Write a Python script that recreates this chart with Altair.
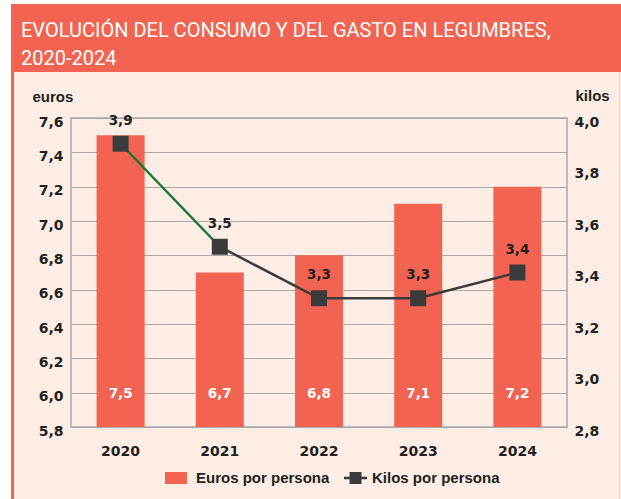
import altair as alt
import pandas as pd

# ---- data ----
anios = ["2020", "2021", "2022", "2023", "2024"]
euros_persona = [7.5, 6.7, 6.8, 7.1, 7.2]
kilos_persona = [3.9, 3.5, 3.3, 3.3, 3.4]
ticks_euros = [5.8, 6.0, 6.2, 6.4, 6.6, 6.8, 7.0, 7.2, 7.4, 7.6]
ticks_kilos = [2.8, 3.0, 3.2, 3.4, 3.6, 3.8, 4.0]
titulo = ["EVOLUCIÓN DEL CONSUMO Y DEL GASTO EN LEGUMBRES,", "2020-2024"]
serie_euros = "Euros por persona"
serie_kilos = "Kilos por persona"

RED = "#F26451"
PINK = "#FDEDE5"
DARK = "#231F20"
LINE = "#3A3B3D"
GREEN = "#17772F"
GRID = "#A9A9A9"

df = pd.DataFrame({"anio": anios, "euros": euros_persona, "kilos": kilos_persona})
df["lbl_e"] = [f"{v:.1f}".replace(".", ",") for v in euros_persona]
df["lbl_k"] = [f"{v:.1f}".replace(".", ",") for v in kilos_persona]
df["base_e"] = 6.0

one = pd.DataFrame({"a": [0]})
comma = "replace(format(datum.value, '.1f'), '.', ',')"

x = alt.X(
    "anio:N",
    scale=alt.Scale(paddingInner=0.516, paddingOuter=0.258),
    axis=alt.Axis(
        title=None, labelAngle=0, labelFont="DejaVu Sans", labelFontWeight="bold",
        labelFontSize=14, labelColor=DARK, labelPadding=17, ticks=False, domain=False,
        grid=False,
    ),
)

# ---- decoration (frame, banner, title) ----
def rect(x1, x2, y1, y2, color):
    return alt.Chart(one).mark_rect(color=color).encode(
        x=alt.value(x1), x2=alt.value(x2), y=alt.value(y1), y2=alt.value(y2)
    )

decor = [
    rect(-71, 550, -118, -114, "white"),
    rect(-71, -60, -118, 381, "white"),
    rect(-60, 550, -114, -46, RED),
    rect(-60, -57, -46, 381, RED),
    rect(548, 549, -46, 381, "#F7CFC3"),
]
title_layers = [
    alt.Chart(one).mark_text(
        text=t, font="Roboto", fontSize=20, color="white", align="left", baseline="alphabetic"
    ).encode(x=alt.value(-50), y=alt.value(yy))
    for t, yy in zip(titulo, [-81, -53])
]

# ---- euros (bars) ----
scale_e = alt.Scale(domain=[5.8, 7.6], nice=False, zero=False)
axis_e = alt.Axis(
    values=ticks_euros, labelExpr=comma, title="euros", titleAngle=0,
    titleX=-39, titleY=-17, titleAlign="left", titleBaseline="alphabetic",
    titleFont="Liberation Sans", titleFontSize=15, titleFontWeight="bold", titleColor=DARK,
    labelFont="DejaVu Sans", labelFontWeight="bold", labelFontSize=14, labelColor=DARK,
    labelPadding=8, labelOffset=4, labelOverlap=False, labelBound=False,
    ticks=False, domain=False, grid=True, gridColor=GRID, gridWidth=1.2,
)
bars = alt.Chart(df).mark_bar(color=RED, clip=True).encode(
    x=x, y=alt.Y("euros:Q", scale=scale_e, axis=axis_e)
)
bar_lbl = alt.Chart(df).mark_text(
    color="white", font="DejaVu Sans", fontWeight="bold", fontSize=13.5, baseline="middle", dy=1
).encode(x=x, y=alt.Y("base_e:Q", scale=scale_e, axis=axis_e), text="lbl_e:N")
euros_layer = alt.layer(bars, bar_lbl)

# ---- kilos (line) ----
y_k = alt.Y(
    "kilos:Q",
    scale=alt.Scale(domain=[2.8, 4.0], nice=False, zero=False),
    axis=alt.Axis(
        orient="right", values=ticks_kilos, labelExpr=comma, title="kilos", titleAngle=0,
        titleX=8, titleY=-18, titleAlign="left", titleBaseline="alphabetic",
        titleFont="Liberation Sans", titleFontSize=15, titleFontWeight="bold", titleColor=DARK,
        labelFont="DejaVu Sans", labelFontWeight="bold", labelFontSize=14, labelColor=DARK,
        labelPadding=7, labelOffset=4, labelOverlap=False, labelBound=False,
        ticks=False, domain=False, grid=False,
    ),
)
base_k = alt.Chart(df)
line_green = base_k.mark_line(color=GREEN, strokeWidth=2.5).encode(x=x, y=y_k).transform_filter(
    alt.FieldOneOfPredicate(field="anio", oneOf=anios[:2])
)
line_gray = base_k.mark_line(color=LINE, strokeWidth=2.5).encode(x=x, y=y_k).transform_filter(
    alt.FieldOneOfPredicate(field="anio", oneOf=anios[1:])
)
pts = base_k.mark_square(size=256, color=LINE, opacity=1).encode(x=x, y=y_k)
k_lbl = base_k.mark_text(
    color=DARK, font="DejaVu Sans", fontWeight="bold", fontSize=13.5, baseline="middle", dy=-23
).encode(x=x, y=y_k, text="lbl_k:N")
kilos_layer = alt.layer(line_green, line_gray, pts, k_lbl)

# ---- legend ----
legend = [
    rect(94, 116, 354, 366, RED),
    alt.Chart(one).mark_text(
        text=serie_euros, font="Liberation Sans", fontWeight="bold", fontSize=15, color=DARK,
        align="left", baseline="alphabetic",
    ).encode(x=alt.value(125), y=alt.value(365)),
    alt.Chart(one).mark_rule(color=LINE, strokeWidth=2.5).encode(
        x=alt.value(273), x2=alt.value(296), y=alt.value(360)
    ),
    alt.Chart(one).mark_square(size=144, color=LINE, opacity=1).encode(
        x=alt.value(284.5), y=alt.value(360)
    ),
    alt.Chart(one).mark_text(
        text=serie_kilos, font="Liberation Sans", fontWeight="bold", fontSize=15, color=DARK,
        align="left", baseline="alphabetic",
    ).encode(x=alt.value(301), y=alt.value(365)),
]

chart = (
    alt.layer(*decor, *title_layers, euros_layer, kilos_layer, *legend)
    .resolve_scale(y="independent")
    .properties(
        width=496, height=309, autosize="none",
        padding={"left": 71, "top": 118, "right": 54, "bottom": 72},
        background=PINK,
    )
    .configure_view(stroke=GRID, strokeWidth=1.5)
)

chart.save("out.html", embed_options={"renderer": "svg", "actions": False})
